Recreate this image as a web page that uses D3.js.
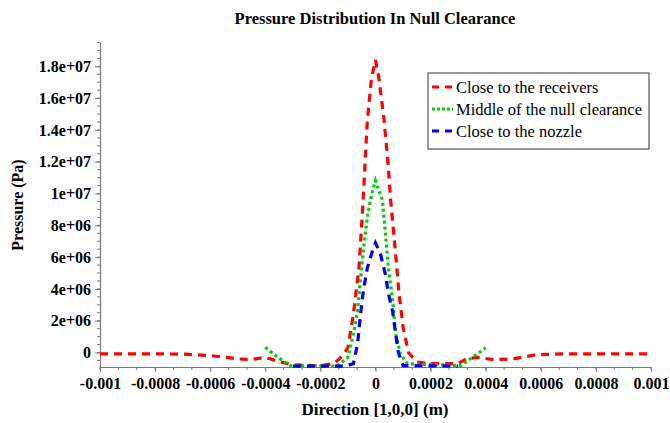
<!doctype html>
<html>
<head>
<meta charset="UTF-8">
<title>Pressure Distribution In Null Clearance</title>
<script src="https://cdn.jsdelivr.net/npm/d3@7"></script>
<style>
  body { margin: 0; background: #fff; }
  text { font-family: "Liberation Serif", "Times New Roman", serif; }
</style>
</head>
<body>
<svg id="chart" width="670" height="423"></svg>
<script>
// values: direction (m) and pressure (Pa)
var receiversX = [-0.001, -0.0008, -0.0007, -0.0006, -0.0005, -0.00045, -0.0004, -0.00035, -0.0003, -0.0002,
  -0.00015, -0.00012, -0.0001, -0.00008, -0.00006, -0.000045, -0.00003, -0.000015, 0, 0.000012, 0.00003,
  0.000045, 0.000055, 0.000072, 0.000085, 0.0001, 0.00012, 0.00015, 0.0002, 0.0003, 0.00033, 0.00037,
  0.00043, 0.0005, 0.00058, 0.00068, 0.001];
var receiversP = [-0.08e6, -0.08e6, -0.1e6, -0.19e6, -0.4e6, -0.44e6, -0.3e6, -0.57e6, -0.78e6, -0.82e6,
  -0.7e6, -0.2e6, 0.3e6, 2.45e6, 5.3e6, 9.5e6, 14.5e6, 17.2e6, 18.4e6, 17.3e6, 14.8e6,
  12.0e6, 9.6e6, 6.4e6, 3.8e6, 1.6e6, 0, -0.6e6, -0.7e6, -0.7e6, -0.4e6, -0.3e6,
  -0.45e6, -0.4e6, -0.15e6, -0.08e6, -0.08e6];

var middleX = [-0.0004, -0.000355, -0.00031, -0.00014, -0.0001, -0.00008, -0.000065, -0.000054, -0.000044,
  -0.00003, -0.000018, -0.00001, 0, 0.000025, 0.000036, 0.000047, 0.000062, 0.000073, 0.00009, 0.000116,
  0.00031, 0.0004];
var middleP = [0.33e6, -0.3e6, -0.82e6, -0.86e6, -0.3e6, 1.2e6, 2.6e6, 4.7e6, 6.4e6,
  8.5e6, 9.6e6, 10.2e6, 10.8e6, 9.6e6, 7.5e6, 5.3e6, 3.3e6, 1.2e6, -0.1e6, -0.7e6,
  -0.82e6, 0.3e6];

var nozzleX = [-0.0003, -0.00011, -0.00008, -0.000065, -0.000054, -0.000044, -0.00003, -0.000011, 0,
  0.000018, 0.000036, 0.000047, 0.000062, 0.000073, 0.000083, 0.0001, 0.0003];
var nozzleP = [-0.85e6, -0.85e6, -0.7e6, 0.57e6, 2.45e6, 3.9e6, 5.3e6, 6.4e6, 6.9e6,
  6.2e6, 4.9e6, 3.7e6, 2.6e6, 1.2e6, 0, -0.82e6, -0.85e6];

var seriesNames = ["Close to the receivers", "Middle of the null clearance", "Close to the nozzle"];
var seriesColors = ["#ff0000", "#00d000", "#0000ee"];
var seriesDash = ["8,6", "3,3", "8,6"];

var xTicks = [-0.001, -0.0008, -0.0006, -0.0004, -0.0002, 0, 0.0002, 0.0004, 0.0006, 0.0008, 0.001];
var yTicks = [0, 2e6, 4e6, 6e6, 8e6, 1e7, 1.2e7, 1.4e7, 1.6e7, 1.8e7];

var svg = d3.select("#chart");

var x = d3.scaleLinear().domain([-0.001, 0.001]).range([100, 651]);
var y = d3.scaleLinear().domain([-0.91e6, 19.53e6]).range([367, 42]);

function pairs(xs, ps) {
  return xs.map(function(v, i) { return [v, ps[i]]; });
}
var series = [pairs(receiversX, receiversP), pairs(middleX, middleP), pairs(nozzleX, nozzleP)];

function xLabel(d) {
  if (d === 0) return "0";
  return (Math.round(d * 10000) / 10000).toString();
}
function yLabel(d) {
  if (d === 0) return "0";
  var e = Math.floor(Math.log10(d));
  var m = Math.round(d / Math.pow(10, e) * 10) / 10;
  return m + "e+" + (e < 10 ? "0" + e : e);
}

// minor ticks: three steps per major on x, quarter steps on y
var xMinor = d3.range(-15, 16).map(function(i) { return i * 0.0002 / 3; });
var yMinor = d3.range(-1, 40).map(function(i) { return i * 5e5; })
  .filter(function(v) { return v >= -0.91e6 && v <= 19.53e6; });

var axisColor = "#7a7a7a";

var gx = svg.append("g").attr("transform", "translate(0,367)");
gx.call(d3.axisBottom(x).tickValues(xTicks).tickFormat(xLabel).tickSize(5).tickSizeOuter(0));
gx.append("g").selectAll("line").data(xMinor).enter().append("line")
  .attr("x1", function(d) { return x(d); }).attr("x2", function(d) { return x(d); })
  .attr("y1", 0).attr("y2", 3).attr("stroke", axisColor);

var gy = svg.append("g").attr("transform", "translate(100,0)");
gy.call(d3.axisLeft(y).tickValues(yTicks).tickFormat(yLabel).tickSize(5).tickSizeOuter(0));
gy.append("g").selectAll("line").data(yMinor).enter().append("line")
  .attr("y1", function(d) { return y(d); }).attr("y2", function(d) { return y(d); })
  .attr("x1", 0).attr("x2", -3).attr("stroke", axisColor);

[gx, gy].forEach(function(g) {
  g.select(".domain").attr("stroke", axisColor).attr("stroke-width", 1.2);
  g.selectAll(".tick line").attr("stroke", axisColor);
  g.selectAll(".tick text")
    .attr("fill", "#000")
    .style("font-family", "'Liberation Serif', serif")
    .style("font-size", "16px")
    .style("font-weight", "bold");
});
gx.selectAll(".tick text").attr("dy", "0.9em");
gy.selectAll(".tick text").attr("dx", "-1px");

var line = d3.line()
  .x(function(d) { return x(d[0]); })
  .y(function(d) { return y(d[1]); });

svg.append("g").selectAll("path").data(series).enter().append("path")
  .attr("d", line)
  .attr("fill", "none")
  .attr("stroke", function(d, i) { return seriesColors[i]; })
  .attr("stroke-width", 3.2)
  .attr("stroke-dasharray", function(d, i) { return seriesDash[i]; });

// title and axis labels
svg.append("text")
  .attr("x", 375).attr("y", 24)
  .attr("text-anchor", "middle")
  .style("font-size", "16.5px").style("font-weight", "bold")
  .text("Pressure Distribution In Null Clearance");

svg.append("text")
  .attr("x", 375).attr("y", 415)
  .attr("text-anchor", "middle")
  .style("font-size", "17px").style("font-weight", "bold")
  .text("Direction [1,0,0] (m)");

svg.append("text")
  .attr("transform", "translate(23,205) rotate(-90)")
  .attr("text-anchor", "middle")
  .style("font-size", "16px").style("font-weight", "bold")
  .text("Pressure (Pa)");

// legend
var legend = svg.append("g").attr("transform", "translate(428,73)");
legend.append("rect")
  .attr("width", 221).attr("height", 76)
  .attr("fill", "#fff").attr("stroke", "#555").attr("stroke-width", 1.2);

var item = legend.selectAll(".item").data(seriesNames).enter().append("g")
  .attr("class", "item")
  .attr("transform", function(d, i) { return "translate(0," + (14 + i * 22) + ")"; });
item.append("line")
  .attr("x1", 4).attr("x2", 25)
  .attr("stroke", function(d, i) { return seriesColors[i]; })
  .attr("stroke-width", 3)
  .attr("stroke-dasharray", function(d, i) { return i === 1 ? "3,2" : "7,6"; });
item.append("text")
  .attr("x", 28).attr("dy", "0.35em")
  .style("font-size", "16.5px")
  .text(function(d) { return d; });
</script>
</body>
</html>
